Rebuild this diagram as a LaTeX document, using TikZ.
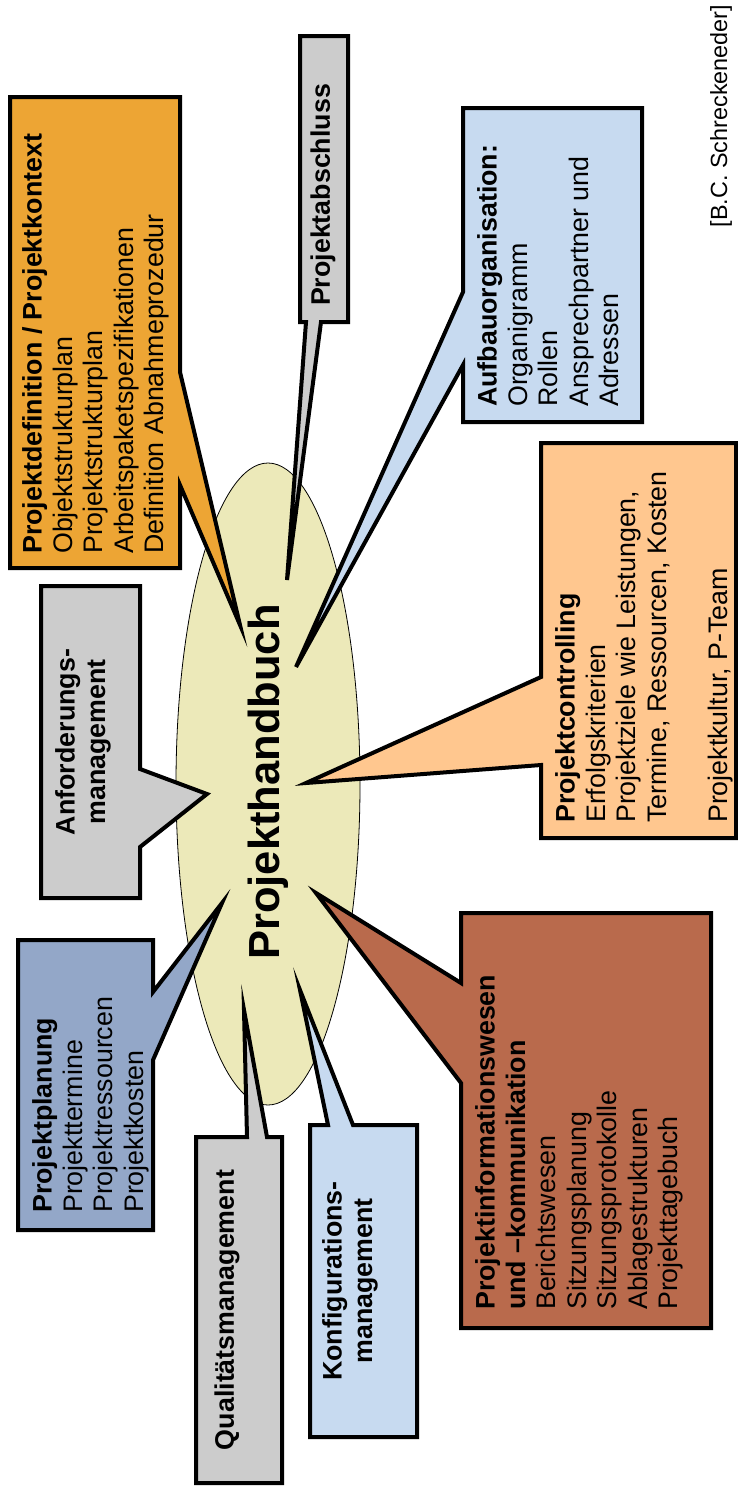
\documentclass[tikz,border=0pt]{standalone}
\usepackage{fontspec}
\setmainfont{Liberation Sans}
\usetikzlibrary{shapes.geometric}
\definecolor{orng}{RGB}{237,165,52}
\definecolor{gry}{RGB}{204,204,204}
\definecolor{lblue}{RGB}{199,218,240}
\definecolor{lorng}{RGB}{255,199,143}
\definecolor{bgray}{RGB}{147,167,200}
\definecolor{brwn}{RGB}{185,106,76}
\definecolor{ell}{RGB}{236,233,185}
\begin{document}
\begin{tikzpicture}[x=1pt,y=-1pt,
  box/.style={draw=black,line width=4pt,line join=miter,miter limit=20},
  txt/.style={rotate=90,inner sep=0pt,align=left,anchor=north west,font=\fontsize{26.8}{30.5}\selectfont},
  ctxt/.style={rotate=90,inner sep=0pt,align=center,anchor=center,font=\fontsize{26.8}{30.5}\selectfont\bfseries}]
\useasboundingbox (0,0) rectangle (738,1492);
% central ellipse
\node[draw=black,line width=0.8pt,fill=ell,ellipse,minimum width=184pt,minimum height=642pt,inner sep=0pt] (hb) at (268,784) {};
% callouts
\draw[box,fill=orng] (10,97) -- (180,97) -- (180,372) -- (240,625) -- (180,485) -- (180,568) -- (10,568) -- cycle;
\draw[box,fill=gry] (300,36) -- (348,36) -- (348,322) -- (321,322) -- (287,580) -- (306,322) -- (300,322) -- cycle;
\draw[box,fill=lblue] (463,108) -- (642,108) -- (642,422) -- (463,422) -- (463,365) -- (296,667) -- (463,292) -- cycle;
\draw[box,fill=lorng] (541,443) -- (736,443) -- (736,838) -- (541,838) -- (541,765) -- (306,783) -- (541,677) -- cycle;
\draw[box,fill=gry] (41,586) -- (140,586) -- (140,769) -- (207,794) -- (140,847) -- (140,898) -- (41,898) -- cycle;
\draw[box,fill=bgray] (18,940) -- (153,940) -- (153,992) -- (222,903) -- (153,1060) -- (153,1230) -- (18,1230) -- cycle;
\draw[box,fill=gry] (196,1137) -- (247,1137) -- (244,1010) -- (267,1137) -- (282,1137) -- (282,1483) -- (196,1483) -- cycle;
\draw[box,fill=lblue] (310,1125) -- (328,1125) -- (300,990) -- (353,1125) -- (417,1125) -- (417,1437) -- (310,1437) -- cycle;
\draw[box,fill=brwn] (461,913) -- (711,913) -- (711,1328) -- (461,1328) -- (461,1083) -- (316,893) -- (461,983) -- cycle;
% title
\node[rotate=90,inner sep=0pt,font=\fontsize{43.5}{50}\selectfont\bfseries] (title) at (268,782) {Projekthandbuch};
% texts
\node[txt] (t1) at (22,554) {\textbf{Projektdefinition / Projektkontext}\\Objektstrukturplan\\Projektstrukturplan\\Arbeitspaketspezifikationen\\Definition Abnahmeprozedur};
\node[ctxt] (t2) at (323,195) {Projektabschluss};
\node[txt] (t3) at (477,407) {\textbf{Aufbauorganisation:}\\Organigramm\\Rollen\\Ansprechpartner und\\Adressen};
\node[txt] (t4) at (555,823) {\textbf{Projektcontrolling}\\Erfolgskriterien\\Projektziele wie Leistungen,\\Termine, Ressourcen, Kosten\\[30.5pt]Projektkultur, P-Team};
\node[ctxt] (t5) at (83,742) {Anforderungs-\\management};
\node[txt] (t6) at (32,1213) {\textbf{Projektplanung}\\Projekttermine\\Projektressourcen\\Projektkosten};
\node[ctxt] (t7) at (227,1310) {Qualitätsmanagement};
\node[ctxt] (t8) at (350,1281) {Konfigurations-\\management};
\node[txt] (t9) at (475,1310) {\textbf{Projektinformationswesen}\\\textbf{und –kommunikation}\\Berichtswesen\\Sitzungsplanung\\Sitzungsprotokolle\\Ablagestrukturen\\Projekttagebuch};
\node[rotate=90,inner sep=0pt,font=\fontsize{23.4}{27}\selectfont] (src) at (721,116) {[B.C. Schreckeneder]};
\end{tikzpicture}
\end{document}
